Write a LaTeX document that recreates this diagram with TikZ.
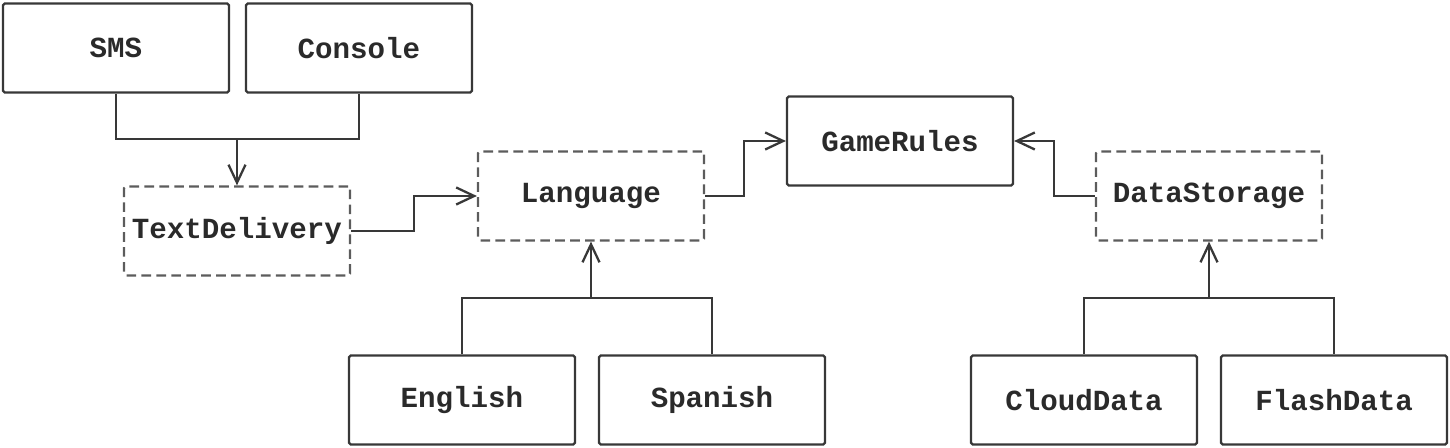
\documentclass[tikz,border=0pt]{standalone}
\usepackage{fontspec}
\setmonofont{Liberation Mono}
\usepackage{xcolor}
\usepackage{tikz}
\usetikzlibrary{arrows.meta}
\definecolor{INK}{HTML}{2A2A2A}
\definecolor{EDGE}{HTML}{383838}
\definecolor{DASH}{HTML}{5C5C5C}

\begin{document}
\begin{tikzpicture}[
  x=0.02cm, y=-0.02cm,
  font=\ttfamily\bfseries\fontsize{16.6pt}{20pt}\selectfont,
  cls/.style={draw=EDGE, line width=1.3pt, rounded corners=1pt, text=INK,
    minimum width=4.52cm, minimum height=1.78cm, inner sep=0pt},
  iface/.style={cls, draw=DASH, dash pattern=on 5.5pt off 3pt},
  link/.style={draw=EDGE, line width=1.3pt},
  arr/.style={link, -{Straight Barb[length=0.36cm, width=0.34cm, line width=1.3pt]}},
]
\useasboundingbox (0,0) rectangle (1450,448);

% delivery side
\node[cls] (sms) at (116,48) {SMS};
\node[cls] (console) at (359,48) {Console};
\node[iface] (delivery) at (237,231) {TextDelivery};

% core
\node[iface] (language) at (591,196) {Language};
\node[cls] (rules) at (900,141) {GameRules};
\node[iface] (storage) at (1209,196) {DataStorage};

% implementations
\node[cls] (english) at (462,400) {English};
\node[cls] (spanish) at (712,400) {Spanish};
\node[cls] (cloud) at (1084,400) {CloudData};
\node[cls] (flash) at (1334,400) {FlashData};

% junctions
\coordinate (jdel) at (237,139);
\coordinate (jlang) at (591,298);
\coordinate (jstore) at (1209,298);

\draw[link] (sms.south) |- (jdel) -| (console.south);
\draw[arr] (jdel) -- (delivery.north);

\draw[arr] (delivery.east) -- ++(63,0) |- (language.west);
\draw[arr] (language.east) -- ++(39,0) |- (rules.west);
\draw[arr] (storage.west) -- ++(-41,0) |- (rules.east);

\draw[link] (english.north) |- (jlang) -| (spanish.north);
\draw[arr] (jlang) -- (language.south);
\draw[link] (cloud.north) |- (jstore) -| (flash.north);
\draw[arr] (jstore) -- (storage.south);

\end{tikzpicture}
\end{document}
